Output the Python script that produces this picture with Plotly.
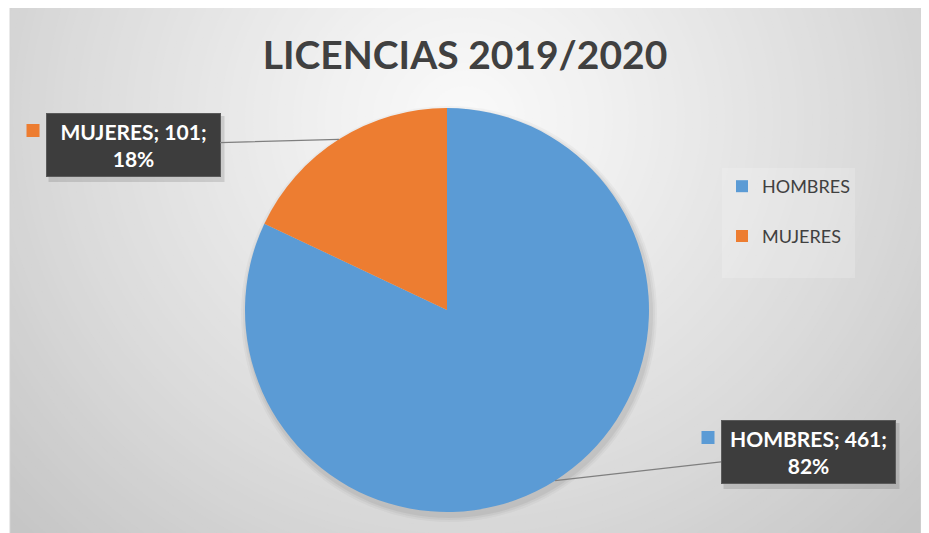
import math
import plotly.graph_objects as go

# ---------------- data ----------------
categories = ["HOMBRES", "MUJERES"]
values = [461, 101]
colors = ["#5B9BD5", "#ED7D31"]
title_text = "LICENCIAS 2019/2020"

# ---------------- layout constants ----------------
OFF = 8                            # page body margin of the html page
W, H = 929 - OFF, 533 - OFF
PANEL = (10, 7, 921, 540)          # x0, y0, x1, y1 in window px (top-left origin)
CX, CY, R = 447, 310, 202          # pie centre / radius in window px
GRAD_C = (465, 120)                # centre of the radial background gradient


def px_x(x):
    return (x - OFF) / W


def px_y(y):
    return 1 - (y - OFF) / H


def grad_color(d):
    pts = [(0, 250), (150, 240), (400, 219), (620, 198), (900, 188)]
    for (d0, c0), (d1, c1) in zip(pts, pts[1:]):
        if d <= d1:
            c = c0 + (c1 - c0) * (d - d0) / (d1 - d0)
            break
    else:
        c = pts[-1][1]
    c = int(round(c))
    return f"rgb({c},{c},{c})"


shapes = []
# panel base
shapes.append(dict(type="rect", xref="paper", yref="paper", layer="below",
                   x0=px_x(PANEL[0]), x1=px_x(PANEL[2]), y0=px_y(PANEL[3]), y1=px_y(PANEL[1]),
                   fillcolor=grad_color(900), line=dict(width=0)))
# radial gradient rings (largest first)
r = 700
while r > 0:
    shapes.append(dict(type="circle", xref="paper", yref="paper", layer="below",
                       x0=px_x(GRAD_C[0] - r), x1=px_x(GRAD_C[0] + r),
                       y0=px_y(GRAD_C[1] + r * 0.95), y1=px_y(GRAD_C[1] - r * 0.95),
                       fillcolor=grad_color(r), line=dict(width=0)))
    r -= 8
# white margins outside the panel
for (x0, y0, x1, y1) in [(0, 0, 929, PANEL[1]), (0, 0, PANEL[0], 540), (PANEL[2], 0, 940, 540)]:
    shapes.append(dict(type="rect", xref="paper", yref="paper", layer="below",
                       x0=px_x(x0), x1=px_x(x1), y0=px_y(y1), y1=px_y(y0),
                       fillcolor="white", line=dict(width=0)))
# thin panel outline
shapes.append(dict(type="rect", xref="paper", yref="paper", layer="below",
                   x0=px_x(PANEL[0]), x1=px_x(PANEL[2]), y0=px_y(PANEL[3]), y1=px_y(PANEL[1]),
                   fillcolor="rgba(0,0,0,0)", line=dict(width=1, color="#d4d4d4")))
# soft shadow under the pie
for k, op in [(6, 0.03), (4, 0.04), (2, 0.05)]:
    shapes.append(dict(type="circle", xref="paper", yref="paper", layer="below",
                       x0=px_x(CX + 2 - R - k), x1=px_x(CX + 2 + R + k),
                       y0=px_y(CY + 4 + R + k), y1=px_y(CY + 4 - R - k),
                       fillcolor=f"rgba(0,0,0,{op})", line=dict(width=0)))

fig = go.Figure()
fig.add_trace(go.Pie(
    labels=[c + "<br> " for c in categories],
    values=values,
    marker=dict(colors=colors, line=dict(width=0)),
    sort=False,
    direction="clockwise",
    rotation=0,
    textinfo="none",
    hoverinfo="value+percent",
    domain=dict(x=[px_x(CX - R), px_x(CX + R)], y=[px_y(CY + R), px_y(CY - R)]),
))

# ---------------- data labels (boxes with leader lines) ----------------
label_box_centers = {"HOMBRES": (808, 452), "MUJERES": (133, 145)}
BOX_W, BOX_H = 175, 64
total = sum(values)
annotations = []
cum = 0
for name, val, col in zip(categories, values, colors):
    frac = val / total
    mid = (cum + frac / 2) * 2 * math.pi
    cum += frac
    hx = CX + R * math.sin(mid)
    hy = CY - R * math.cos(mid)
    bx, by = label_box_centers[name]
    pct = round(frac * 100)
    # box shadow
    shapes.append(dict(type="rect", xref="paper", yref="paper",
                       x0=px_x(bx - BOX_W / 2 + 3), x1=px_x(bx + BOX_W / 2 + 4),
                       y0=px_y(by + BOX_H / 2 + 5), y1=px_y(by - BOX_H / 2 + 3),
                       fillcolor="rgba(0,0,0,0.12)", line=dict(width=0)))
    annotations.append(dict(
        xref="paper", yref="paper", x=px_x(hx), y=px_y(hy),
        ax=bx - hx, ay=by - hy, axref="pixel", ayref="pixel",
        showarrow=True, arrowhead=0, arrowwidth=1.3, arrowcolor="#7f7f7f",
        text=f"<b>{name}; {val};<br>{pct}%</b>",
        font=dict(family="Lato", size=21, color="white"),
        bgcolor="#3d3d3d", bordercolor="#5a5a5a", borderwidth=1, borderpad=2,
        width=BOX_W - 6, height=BOX_H - 6, align="center", valign="middle",
    ))
    # colour key square left of the box
    sx1 = bx - BOX_W / 2 - 6
    sy0 = by - BOX_H / 2 + 11
    shapes.append(dict(type="rect", xref="paper", yref="paper",
                       x0=px_x(sx1 - 13), x1=px_x(sx1), y0=px_y(sy0 + 13), y1=px_y(sy0),
                       fillcolor=col, line=dict(width=0)))

fig.update_layout(
    width=W, height=H,
    margin=dict(l=0, r=0, t=0, b=0),
    paper_bgcolor="white",
    plot_bgcolor="white",
    title=dict(text=f"<b>{title_text}</b>", x=px_x(465), xanchor="center",
               y=px_y(55), yanchor="middle",
               font=dict(family="Lato", size=39, color="#404040")),
    showlegend=True,
    legend=dict(x=px_x(722), y=px_y(168), xanchor="left", yanchor="top",
                bgcolor="rgba(255,255,255,0.18)", borderwidth=0,
                font=dict(family="Lato", size=18, color="#404040"),
                valign="top", itemwidth=30),
    shapes=shapes,
    annotations=annotations,
)

fig.write_html("out.html")
